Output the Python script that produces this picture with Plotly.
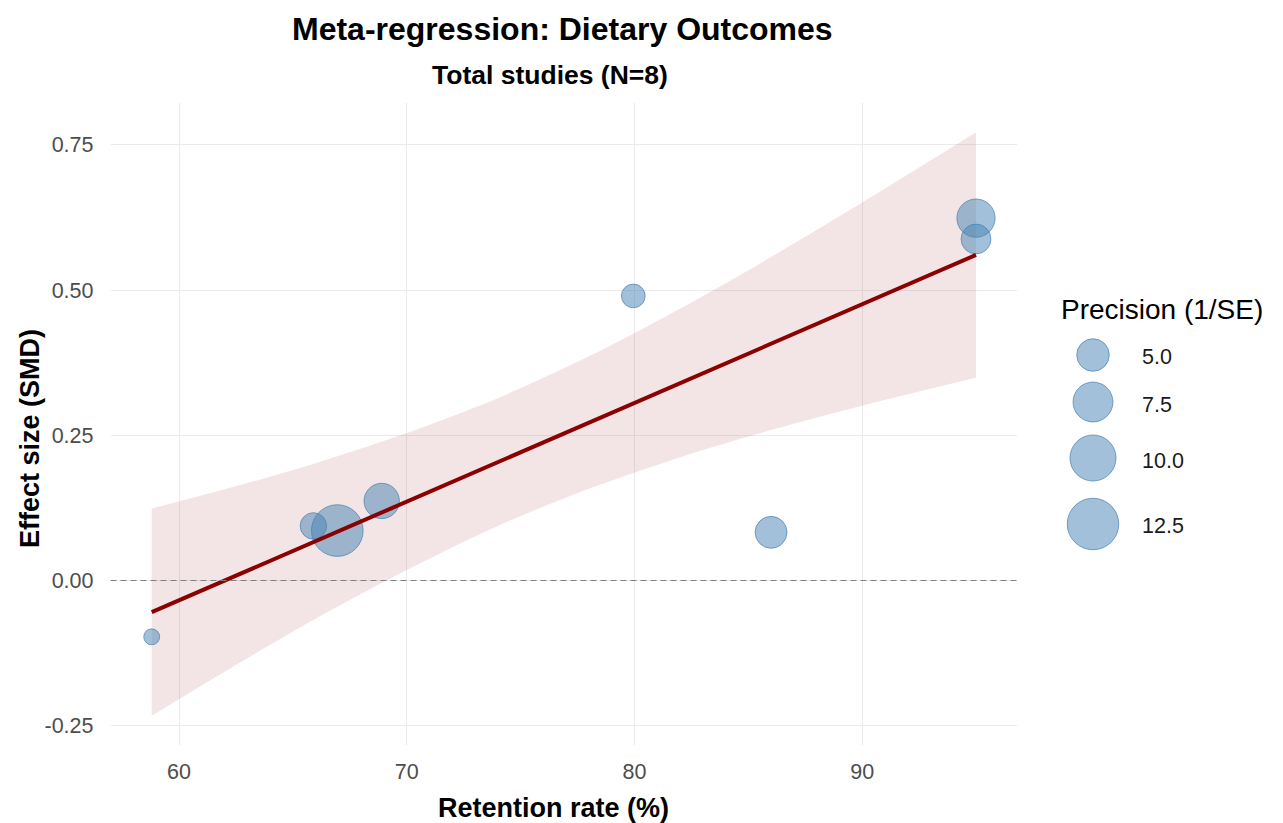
import numpy as np
import plotly.graph_objects as go

# ---- study-level data -------------------------------------------------------
retention = [58.8, 65.9, 66.95, 68.9, 79.95, 86.0, 95.0, 95.0]      # %
smd = [-0.097, 0.094, 0.086, 0.137, 0.490, 0.083, 0.624, 0.588]     # effect size
precision = [1.2, 3.3, 12.6, 5.9, 2.65, 4.8, 6.9, 4.2]              # 1/SE

# ---- fitted meta-regression line with 95% confidence band ------------------
fit_x = [58.8, 62, 66, 70, 74, 78, 82, 86, 90, 95.0]
fit_y = [-0.0545, 0.000, 0.068, 0.136, 0.204, 0.272, 0.340, 0.408, 0.476, 0.5606]
ci_lo = [-0.233, -0.157, -0.066, 0.018, 0.094, 0.158, 0.212, 0.259, 0.301, 0.349]
ci_hi = [0.124, 0.157, 0.202, 0.254, 0.314, 0.386, 0.468, 0.557, 0.651, 0.772]

# ---- axis ticks and size legend ---------------------------------------------
x_ticks = [60, 70, 80, 90]
y_ticks = [-0.25, 0.0, 0.25, 0.50, 0.75]
y_tick_text = ["-0.25", "0.00", "0.25", "0.50", "0.75"]
legend_levels = [5.0, 7.5, 10.0, 12.5]
legend_labels = ["5.0", "7.5", "10.0", "12.5"]

# ---- geometry / style -------------------------------------------------------
W, H = 1283, 823
PANEL_L, PANEL_R, PANEL_T, PANEL_B = 110.5, 1017.2, 103.0, 745.0
SIZE_K = 212.0  # marker area (px^2) per unit of precision
FONT = "Liberation Sans, Arial, sans-serif"
PT_FILL = "rgba(70,130,180,0.5)"
PT_LINE = "rgba(70,130,180,0.7)"


def diam(p):
    return float(np.sqrt(SIZE_K * p))


def px(x):
    return x / W


def py(y):
    return 1 - y / H


# data ranges with a 5% expansion on each side
all_x = np.array(retention + fit_x)
all_y = np.array(smd + ci_lo + ci_hi)
xr = [all_x.min(), all_x.max()]
yr = [all_y.min(), all_y.max()]
xpad = 0.05 * (xr[1] - xr[0])
ypad = 0.05 * (yr[1] - yr[0])

fig = go.Figure()

# confidence band
fig.add_trace(go.Scatter(x=fit_x, y=ci_lo, mode="lines",
                         line=dict(width=0, shape="spline", smoothing=0.8),
                         hoverinfo="skip", showlegend=False))
fig.add_trace(go.Scatter(x=fit_x, y=ci_hi, mode="lines",
                         line=dict(width=0, shape="spline", smoothing=0.8),
                         fill="tonexty", fillcolor="rgba(139,0,0,0.10)",
                         hoverinfo="skip", showlegend=False))

# study points, sized by precision
fig.add_trace(go.Scatter(
    x=retention, y=smd, mode="markers",
    marker=dict(size=[diam(p) for p in precision], sizemode="diameter",
                opacity=1, color=PT_FILL, line=dict(color=PT_LINE, width=1)),
    showlegend=False,
))

# fitted line
fig.add_trace(go.Scatter(x=fit_x, y=fit_y, mode="lines",
                         line=dict(color="#8B0000", width=4),
                         hoverinfo="skip", showlegend=False))

shapes = [dict(type="line", xref="x domain", yref="y", x0=0, x1=1, y0=0, y1=0,
               line=dict(color="#808080", width=1.1, dash="6px,4px"), layer="above")]

annotations = [
    dict(text="<b>Meta-regression: Dietary Outcomes</b>", x=px(562), y=py(29),
         xref="paper", yref="paper", showarrow=False, xanchor="center", yanchor="middle",
         font=dict(family=FONT, size=32, color="#000000")),
    dict(text="<b>Total studies (N=8)</b>", x=px(550), y=py(75),
         xref="paper", yref="paper", showarrow=False, xanchor="center", yanchor="middle",
         font=dict(family=FONT, size=26.5, color="#000000")),
    dict(text="<b>Retention rate (%)</b>", x=px(553), y=py(808),
         xref="paper", yref="paper", showarrow=False, xanchor="center", yanchor="middle",
         font=dict(family=FONT, size=27, color="#000000")),
    dict(text="<b>Effect size (SMD)</b>", x=px(30), y=py(439), textangle=-90,
         xref="paper", yref="paper", showarrow=False, xanchor="center", yanchor="middle",
         font=dict(family=FONT, size=27, color="#000000")),
    dict(text="Precision (1/SE)", x=px(1059), y=py(309),
         xref="paper", yref="paper", showarrow=False, xanchor="left", yanchor="middle",
         font=dict(family=FONT, size=28, color="#000000")),
]

# size legend keys
key_cx = 1093
key_cy = [355, 402, 458, 524]
lab_cy = [357, 405, 461, 526]
for lvl, lab, cy, ly in zip(legend_levels, legend_labels, key_cy, lab_cy):
    d = diam(lvl)
    shapes.append(dict(type="circle", xref="paper", yref="paper",
                       x0=px(key_cx - d / 2), x1=px(key_cx + d / 2),
                       y0=py(cy + d / 2), y1=py(cy - d / 2),
                       fillcolor=PT_FILL, line=dict(color=PT_LINE, width=1)))
    annotations.append(dict(text=lab, x=px(1140), y=py(ly), xref="paper", yref="paper",
                            showarrow=False, xanchor="left", yanchor="middle",
                            font=dict(family=FONT, size=21.5, color="#1A1A1A")))

fig.update_layout(
    width=W, height=H, autosize=False,
    margin=dict(l=0, r=0, t=0, b=0),
    paper_bgcolor="white", plot_bgcolor="white",
    showlegend=False,
    font=dict(family=FONT),
    xaxis=dict(domain=[px(PANEL_L), px(PANEL_R)],
               range=[xr[0] - xpad, xr[1] + xpad],
               tickvals=x_ticks, ticks="", showline=False, zeroline=False,
               showgrid=True, gridcolor="#EBEBEB", gridwidth=1.2,
               tickfont=dict(family=FONT, size=21.5, color="#4D4D4D"),
               ticklabelstandoff=11),
    yaxis=dict(domain=[py(PANEL_B), py(PANEL_T)],
               range=[yr[0] - ypad, yr[1] + ypad],
               tickvals=y_ticks, ticktext=y_tick_text, ticks="",
               showline=False, zeroline=False,
               showgrid=True, gridcolor="#EBEBEB", gridwidth=1.2,
               tickfont=dict(family=FONT, size=21.5, color="#4D4D4D"),
               ticklabelstandoff=16),
    shapes=shapes,
    annotations=annotations,
)

fig.write_html("out.html")
